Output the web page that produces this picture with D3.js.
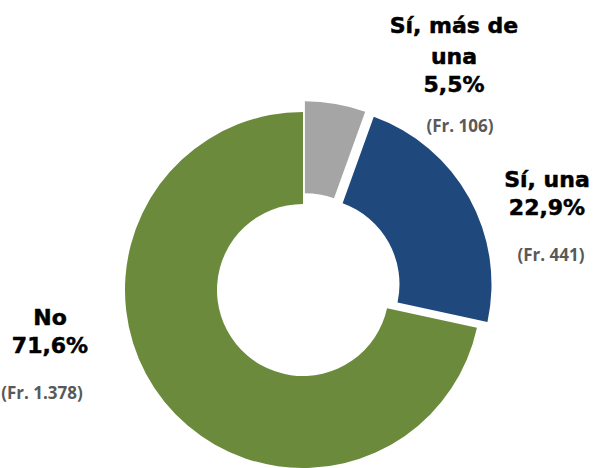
<!DOCTYPE html>
<html>
<head>
<meta charset="utf-8">
<script src="https://cdn.jsdelivr.net/npm/d3@7"></script>
<style>
  body { margin: 0; background: #fff; }
  svg { display: block; }
</style>
</head>
<body>
<script>
// data
const categories = ['Sí, más de una', 'Sí, una', 'No'];
const percentages = [5.5, 22.9, 71.6];
const frequencies = ['106', '441', '1.378'];
const pctLabels = ['5,5%', '22,9%', '71,6%'];

const w = 594, h = 468;
const cx = 303, cy = 290;
const outerR = 178, innerR = 86;
const colors = ['#a5a5a5', '#1f497d', '#6c8a3b'];
const explode = [11, 12, 0];

const svg = d3.select('body').append('svg')
    .attr('width', w)
    .attr('height', h);

const pie = d3.pie().sort(null).value(d => d)(percentages);
const arc = d3.arc().innerRadius(innerR).outerRadius(outerR);

svg.append('g')
    .attr('transform', `translate(${cx},${cy})`)
    .selectAll('path')
    .data(pie)
    .enter()
    .append('path')
    .attr('d', arc)
    .attr('fill', (d, i) => colors[i])
    .attr('transform', (d, i) => {
        const a = (d.startAngle + d.endAngle) / 2;
        return `translate(${Math.sin(a) * explode[i]},${-Math.cos(a) * explode[i]})`;
    });

// labels: title lines, percentage, frequency
const labels = [
    {lines: ['Sí, más de', 'una'], x: 454, y: 33, fx: 460, fy: 132},
    {lines: ['Sí, una'], x: 547, y: 187, fx: 551, fy: 261},
    {lines: ['No'], x: 50, y: 325, fx: 42, fy: 399}
];

labels.forEach((l, i) => {
    const t = svg.append('text')
        .attr('text-anchor', 'middle')
        .attr('font-family', '"DejaVu Sans", sans-serif')
        .attr('font-weight', 700)
        .attr('font-size', 22)
        .attr('fill', '#000')
        .attr('stroke', '#000')
        .attr('stroke-width', 0.5);
    l.lines.concat([pctLabels[i]]).forEach((s, j) => {
        t.append('tspan')
            .attr('x', l.x)
            .attr('y', l.y + j * 31 - (j === l.lines.length ? 3 : 0))
            .text(s);
    });
    svg.append('text')
        .attr('x', l.fx)
        .attr('y', l.fy)
        .attr('text-anchor', 'middle')
        .attr('font-family', '"Open Sans", sans-serif')
        .attr('font-weight', 700)
        .attr('font-size', 17)
        .attr('fill', '#595959')
        .text(`(Fr. ${frequencies[i]})`);
});
</script>
</body>
</html>
